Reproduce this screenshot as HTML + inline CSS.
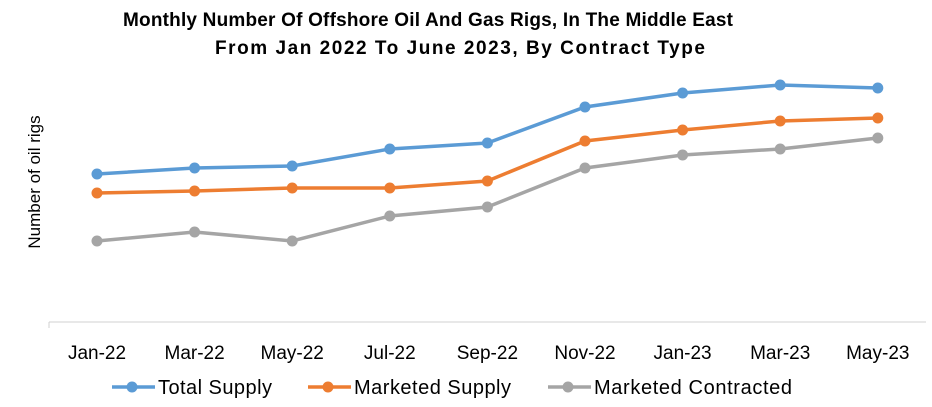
<!DOCTYPE html>
<html><head><meta charset="utf-8"><style>
body{margin:0;background:#fff;font-family:"Liberation Sans",sans-serif}
svg{display:block}
</style></head><body>
<svg width="932" height="407" id="c">
<text x="428" y="26" text-anchor="middle" font-weight="bold" font-size="19" textLength="610">Monthly Number Of Offshore Oil And Gas Rigs, In The Middle East</text>
<text x="460" y="54" text-anchor="middle" font-weight="bold" font-size="19" textLength="490">From Jan 2022 To June 2023, By Contract Type</text>
<text transform="translate(40,182) rotate(-90)" text-anchor="middle" font-size="17">Number of oil rigs</text>
<line x1="49" y1="322" x2="926" y2="322" stroke="#d0d0d0" stroke-width="1"/>
<line x1="49" y1="322" x2="49" y2="328" stroke="#d0d0d0" stroke-width="1"/>
<g id="series"></g>
<g id="labels"></g>
<g id="legend"></g>
</svg>
<script>
const categories=["Jan-22","Mar-22","May-22","Jul-22","Sep-22","Nov-22","Jan-23","Mar-23","May-23"];
const totalSupply=[149,155,157,174,180,216,230,238,235];
const marketedSupply=[130,132,135,135,142,182,193,202,205];
const marketedContracted=[82,91,82,107,116,155,168,174,185];
const seriesNames=["Total Supply","Marketed Supply","Marketed Contracted"];
const colors=["#5b9bd5","#ed7d31","#a5a5a5"];
const NS="http://www.w3.org/2000/svg";
const xs=i=>97+i*97.6;
const ys=v=>323-v;
const sg=document.getElementById('series');
[totalSupply,marketedSupply,marketedContracted].forEach((d,k)=>{
  const p=document.createElementNS(NS,'polyline');
  p.setAttribute('points',d.map((v,i)=>xs(i)+','+ys(v)).join(' '));
  p.setAttribute('fill','none');p.setAttribute('stroke',colors[k]);p.setAttribute('stroke-width','3.5');
  
  
  sg.appendChild(p);
  d.forEach((v,i)=>{
    const c=document.createElementNS(NS,'circle');
    c.setAttribute('cx',xs(i));c.setAttribute('cy',ys(v));c.setAttribute('r','5.5');c.setAttribute('fill',colors[k]);
    
    
    sg.appendChild(c);
  });
});
const lg=document.getElementById('labels');
categories.forEach((t,i)=>{
  const e=document.createElementNS(NS,'text');
  e.setAttribute('x',xs(i));e.setAttribute('y',359);e.setAttribute('text-anchor','middle');e.setAttribute('font-size','19');
  e.textContent=t;
  
  
  lg.appendChild(e);
});
const leg=document.getElementById('legend');
const lx=[112,308,548];
const tw=[114,157,198];
seriesNames.forEach((n,k)=>{
  const g=document.createElementNS(NS,'g');
  
  
  const l=document.createElementNS(NS,'line');
  l.setAttribute('x1',lx[k]);l.setAttribute('x2',lx[k]+43);l.setAttribute('y1',387);l.setAttribute('y2',387);
  l.setAttribute('stroke',colors[k]);l.setAttribute('stroke-width','3.5');
  const c=document.createElementNS(NS,'circle');
  c.setAttribute('cx',lx[k]+20);c.setAttribute('cy',387);c.setAttribute('r','5.5');c.setAttribute('fill',colors[k]);
  const t=document.createElementNS(NS,'text');
  t.setAttribute('x',lx[k]+46);t.setAttribute('y',394);t.setAttribute('font-size','20');
  t.setAttribute('textLength',tw[k]);
  t.textContent=n;
  g.appendChild(l);g.appendChild(c);g.appendChild(t);leg.appendChild(g);
});
</script>
</body></html>
